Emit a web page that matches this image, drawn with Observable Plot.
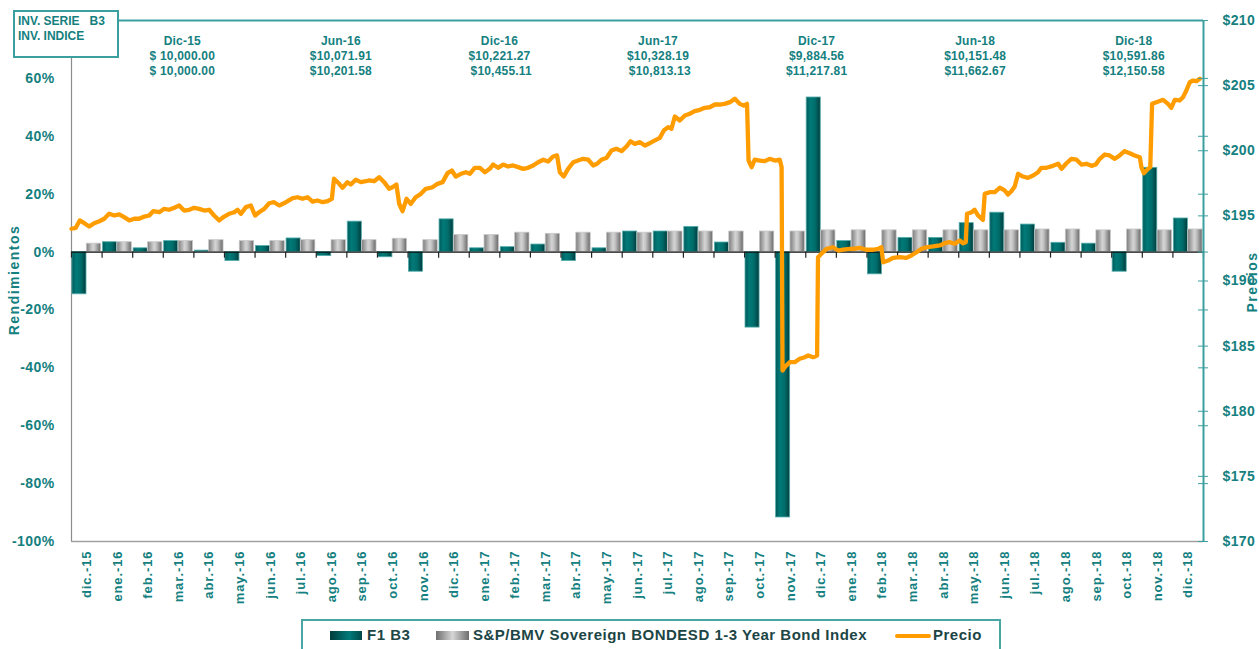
<!DOCTYPE html>
<html>
<head>
<meta charset="utf-8">
<script src="https://cdn.jsdelivr.net/npm/d3@7"></script>
<script src="https://cdn.jsdelivr.net/npm/@observablehq/plot@0.6"></script>
<style>
html,body{margin:0;padding:0;background:#fff;overflow:hidden;}
body{width:1259px;height:649px;position:relative;font-family:"Liberation Sans",Arial,sans-serif;}
#chart{position:absolute;left:0;top:0;}
.box{position:absolute;left:13px;top:10px;width:106px;height:48px;border:2px solid #3b9f9f;background:#fff;color:#148080;font-weight:bold;font-size:12px;line-height:15px;padding:2px 0 0 3px;box-sizing:border-box;white-space:pre;}
.ann{position:absolute;top:34px;left:103px;width:1110px;display:flex;}
.ann div{flex:1;text-align:center;font-weight:bold;font-size:12px;line-height:15px;color:#148080;white-space:pre;letter-spacing:0.2px;}
.ttl{position:absolute;font-weight:bold;font-size:14px;color:#148080;letter-spacing:1.5px;white-space:nowrap;transform:translate(-50%,-50%) rotate(-90deg);}
.legend{position:absolute;left:301px;top:619px;width:700px;height:40px;border:2px solid #4aa5a5;box-sizing:border-box;background:#fff;}
.legend span{position:absolute;top:5px;font-weight:bold;font-size:15px;line-height:18px;letter-spacing:0.5px;color:#1c4545;white-space:nowrap;}
.legend i{position:absolute;display:block;}
</style>
</head>
<body>
<div id="chart"></div>
<script>
// ---- Datos ----
const meses = ["dic.-15","ene.-16","feb.-16","mar.-16","abr.-16","may.-16","jun.-16","jul.-16","ago.-16","sep.-16","oct.-16","nov.-16",
  "dic.-16","ene.-17","feb.-17","mar.-17","abr.-17","may.-17","jun.-17","jul.-17","ago.-17","sep.-17","oct.-17","nov.-17",
  "dic.-17","ene.-18","feb.-18","mar.-18","abr.-18","may.-18","jun.-18","jul.-18","ago.-18","sep.-18","oct.-18","nov.-18","dic.-18"];

// Rendimientos F1 B3 (%)
const f1b3 = [-14.6, 3.4, 1.3, 3.8, 0.5, -3.1, 2.1, 4.7, -1.4, 10.5, -1.8, -6.8,
  11.3, 1.3, 1.7, 2.6, -3.1, 1.3, 7.1, 7.1, 8.7, 3.3, -26.1, -91.7,
  53.4, 3.8, -7.7, 4.9, 4.9, 10.0, 13.6, 9.5, 3.2, 2.9, -6.8, 29.1, 11.6];

// Rendimientos S&P/BMV Sovereign BONDESD 1-3 Year Bond Index (%)
const indice = [2.9, 3.4, 3.4, 3.8, 4.1, 3.8, 3.8, 4.1, 4.1, 4.1, 4.6, 4.1,
  5.9, 5.9, 6.7, 6.3, 6.7, 6.7, 6.7, 7.1, 7.1, 7.1, 7.1, 7.1,
  7.5, 7.5, 7.5, 7.5, 7.5, 7.5, 7.5, 7.8, 7.8, 7.5, 7.8, 7.5, 7.8];

// Precio: posición en meses desde inicio de dic.-15
const precioPos = [0,0.14,0.27,0.42,0.58,0.74,0.91,1.07,1.23,1.40,1.56,1.72,1.89,2.05,2.21,2.38,2.54,2.67,2.87,3.03,
  3.19,3.36,3.52,3.68,3.85,4.01,4.17,4.34,4.50,4.66,4.83,4.99,5.15,5.32,5.43,5.54,5.70,5.86,6.00,6.13,
  6.30,6.46,6.62,6.79,7.01,7.23,7.39,7.55,7.72,7.88,8.04,8.21,8.37,8.51,8.58,8.75,8.86,9.02,9.13,9.29,
  9.46,9.62,9.73,9.89,10.06,10.22,10.38,10.49,10.62,10.71,10.82,10.95,11.09,11.25,11.42,11.58,11.80,11.96,12.13,12.29,
  12.43,12.56,12.73,12.89,
  13.02,13.18,13.35,13.51,13.67,13.78,13.94,14.11,14.27,14.43,14.60,14.76,14.92,15.09,15.25,15.42,15.58,15.74,15.87,15.96,
  16.09,16.23,16.40,16.56,16.72,16.89,17.05,17.18,17.32,17.49,17.65,17.81,17.98,18.14,18.27,18.41,18.58,18.74,18.90,19.07,
  19.23,19.36,19.50,19.61,19.72,19.88,20.05,20.21,20.37,20.54,20.70,20.86,21.03,21.19,21.35,21.52,21.68,21.84,21.97,22.08,
  22.13,22.23,22.33,22.50,22.66,22.82,22.99,23.15,23.21,23.24,23.31,23.48,23.64,23.80,23.97,24.08,24.24,24.37,24.40,24.51,
  24.68,24.89,25.06,25.22,25.44,
  25.55,25.76,25.98,26.20,26.36,26.47,26.53,26.69,26.85,27.07,27.29,27.45,27.62,27.78,27.94,28.16,28.38,28.54,28.71,28.87,
  29.03,29.14,29.23,29.27,29.42,29.52,29.63,29.79,29.85,30.01,30.18,30.34,30.50,30.61,30.72,30.83,30.94,31.10,31.26,31.43,
  31.59,31.70,31.87,32.08,32.25,32.36,32.52,32.68,32.85,33.01,33.17,33.34,33.48,33.61,33.77,33.93,34.10,34.26,34.42,34.59,
  34.75,34.92,34.97,35.05,35.19,35.26,35.32,35.46,35.68,35.84,35.95,36.06,36.22,36.33,36.44,36.55,36.66,36.77,36.88];

const precio = [194.01,194.08,194.65,194.44,194.18,194.44,194.59,194.78,195.16,195.03,195.11,194.90,194.65,194.78,194.78,194.95,195.03,195.36,195.28,195.54,
  195.47,195.62,195.80,195.41,195.47,195.62,195.54,195.41,195.47,195.03,194.65,194.95,195.16,195.28,195.47,195.16,195.67,195.80,195.03,195.28,
  195.54,195.97,196.05,195.80,196.05,196.36,196.43,196.31,196.43,196.10,196.18,196.05,196.13,196.31,197.85,197.46,197.16,197.59,197.41,197.77,
  197.59,197.66,197.72,197.66,197.97,197.59,197.08,197.20,197.41,195.93,195.36,196.31,195.93,196.43,196.69,197.08,197.20,197.46,197.59,198.28,
  198.48,198.02,198.23,198.35,
  198.23,198.69,198.69,198.35,198.61,198.94,198.69,198.94,198.79,198.87,198.74,198.61,198.69,198.87,199.12,199.31,199.17,199.56,199.64,198.35,
  198.02,198.61,199.12,199.25,199.38,199.31,198.87,199.00,199.31,199.46,200.02,200.15,199.97,200.33,200.73,200.53,200.66,200.40,200.58,200.79,
  200.99,201.55,201.81,201.69,202.63,202.32,202.71,202.84,203.04,203.14,203.30,203.34,203.55,203.55,203.60,203.73,203.99,203.60,203.47,203.60,
  199.25,198.74,199.31,199.25,199.20,199.38,199.25,199.31,198.74,183.13,183.38,183.77,183.77,184.03,184.15,184.28,184.15,184.28,191.83,192.09,
  192.47,192.59,192.34,192.40,192.47,
  192.47,192.55,192.40,192.40,192.47,192.59,191.44,191.57,191.78,191.83,191.78,191.96,192.21,192.47,192.59,192.65,192.73,192.90,192.98,192.86,
  193.11,192.90,192.98,195.16,195.28,195.47,195.03,194.70,196.69,196.82,196.82,197.16,196.95,196.64,196.89,197.26,198.23,198.02,197.92,198.10,
  198.35,198.69,198.69,198.84,199.00,198.61,199.04,199.38,199.31,198.94,199.00,198.84,198.94,199.38,199.71,199.64,199.38,199.64,199.97,199.81,
  199.64,199.50,198.74,198.28,198.61,198.74,203.60,203.73,203.91,203.60,203.30,203.91,203.86,204.11,204.63,205.26,205.39,205.34,205.52];

// Ejes
const ticksRend = [-100, -80, -60, -40, -20, 0, 20, 40, 60];
const ticksPrecio = [170, 175, 180, 185, 190, 195, 200, 205, 210];
const rendDominio = [-100, 80];
const precioDominio = [170, 210];

// Anotaciones superiores
const annFechas = ["Dic-15", "Jun-16", "Dic-16", "Jun-17", "Dic-17", "Jun-18", "Dic-18"];
const annSerie = ["$ 10,000.00", "$10,071.91", "$10,221.27", "$10,328.19", "$9,884.56", "$10,151.48", "$10,591.86"];
const annIndice = ["$ 10,000.00", "$10,201.58", " $10,455.11", " $10,813.13", "$11,217.81", "$11,662.67", "$12,150.58"];

// ---- Gráfica ----
const teal = "#148080";
const k = (rendDominio[1] - rendDominio[0]) / (precioDominio[1] - precioDominio[0]);
const toLeft = p => rendDominio[0] + (p - precioDominio[0]) * k;
const fromLeft = v => precioDominio[0] + (v - rendDominio[0]) / k;

const idx = d3.range(meses.length);
const barras = idx.map(i => ({i, mes: meses[i], f1: f1b3[i], ind: indice[i]}));
const linea = precio.map((p, j) => ({t: precioPos[j], p}));

const plot = Plot.plot({
  width: 1259, height: 615,
  marginLeft: 71, marginRight: 56, marginTop: 20, marginBottom: 74,
  style: {fontFamily: "'Liberation Sans', Arial, sans-serif", background: "transparent", overflow: "visible"},
  x: {type: "linear", domain: [0, meses.length], axis: null, label: null},
  y: {domain: rendDominio, axis: null, label: null},
  marks: [
    Plot.ruleY([rendDominio[1]], {stroke: "#3b9f9f", strokeWidth: 2}),
    Plot.ruleY([rendDominio[0]], {stroke: "#a0a0a0", strokeWidth: 1.5}),
    Plot.ruleX([0], {stroke: "#8c8c8c", strokeWidth: 1.2}),
    Plot.rect(barras, {x1: d => d.i + 0.03, x2: d => d.i + 0.49, y1: 0, y2: "f1", fill: "url(#gTeal)", stroke: "#56adad", strokeWidth: 0.8}),
    Plot.rect(barras, {x1: d => d.i + 0.5, x2: d => d.i + 0.97, y1: 0, y2: "ind", fill: "url(#gGray)", stroke: "#c8c8c8", strokeWidth: 0.8}),
    Plot.ruleY([0], {stroke: "#111", strokeWidth: 1.3}),
    Plot.ruleX(d3.range(meses.length + 1), {x: d => d, y1: 0, y2: -2.1, stroke: "#222", strokeWidth: 1.2}),
    Plot.line(linea, {x: "t", y: d => toLeft(d.p), stroke: "#ff9c00", strokeWidth: 4.3, strokeLinejoin: "round", strokeLinecap: "round"}),
    Plot.ruleX([meses.length], {stroke: "#3b9f9f", strokeWidth: 2}),
    Plot.axisY(ticksRend, {anchor: "left", label: null, tickSize: 0, tickPadding: 17, tickFormat: d => d + "%", fill: teal, fontSize: 14, fontWeight: "bold"}),
    Plot.axisY(ticksPrecio.map(toLeft), {anchor: "right", label: null, tickSize: 0, tickPadding: 19, tickFormat: v => "$" + Math.round(fromLeft(v)), fill: teal, fontSize: 14, fontWeight: "bold"}),
    Plot.axisY(ticksPrecio.map(toLeft), {anchor: "right", label: null, tickSize: 10, dx: -6, tickFormat: () => "", stroke: "#3b9f9f"}),
    Plot.axisY(ticksRend, {anchor: "right", label: null, tickSize: 10, dx: -6, tickFormat: () => "", stroke: "#3b9f9f"}),
    Plot.axisX(idx.map(i => i + 0.5), {anchor: "bottom", label: null, tickSize: 0, tickPadding: 9, tickRotate: -90, tickFormat: d => meses[Math.floor(d)], fill: teal, fontSize: 13, fontWeight: "bold"})
  ]
});

// gradientes de barras
const ns = "http://www.w3.org/2000/svg";
const defs = document.createElementNS(ns, "defs");
function grad(id, stops) {
  const g = document.createElementNS(ns, "linearGradient");
  g.setAttribute("id", id); g.setAttribute("x1", "0"); g.setAttribute("x2", "1"); g.setAttribute("y1", "0"); g.setAttribute("y2", "0");
  for (const [o, c] of stops) {
    const s = document.createElementNS(ns, "stop");
    s.setAttribute("offset", o); s.setAttribute("stop-color", c); g.appendChild(s);
  }
  defs.appendChild(g);
}
grad("gTeal", [[0, "#005a5a"], [0.3, "#007a78"], [0.65, "#006c6a"], [1, "#003c3c"]]);
grad("gGray", [[0, "#7c7c7c"], [0.45, "#d4d4d4"], [0.6, "#c4c4c4"], [1, "#686868"]]);
plot.insertBefore(defs, plot.firstChild);
plot.querySelectorAll('g[aria-label="x-axis tick label"] text').forEach(t => t.setAttribute("letter-spacing", "0.9"));
plot.querySelectorAll('g[aria-label="y-axis tick label"] text').forEach(t => t.setAttribute("letter-spacing", "0.4"));
document.getElementById("chart").appendChild(plot);

// ---- Elementos HTML ----
const body = document.body;
const box = document.createElement("div");
box.className = "box";
box.textContent = "INV. SERIE   B3\nINV. INDICE";
body.appendChild(box);

const ann = document.createElement("div");
ann.className = "ann";
annFechas.forEach((f, j) => {
  const d = document.createElement("div");
  d.textContent = f + "\n" + annSerie[j] + "\n" + annIndice[j];
  ann.appendChild(d);
});
body.appendChild(ann);

function titulo(txt, x, y) {
  const d = document.createElement("div");
  d.className = "ttl"; d.textContent = txt;
  d.style.left = x + "px"; d.style.top = y + "px";
  body.appendChild(d);
}
titulo("Rendimientos", 14, 280);
titulo("Precios", 1252, 282);

const leg = document.createElement("div");
leg.className = "legend";
leg.innerHTML =
  '<i style="left:27px;top:10px;width:32px;height:9px;background:linear-gradient(90deg,#003c3c,#007a78 60%,#004848)"></i>' +
  '<span style="left:64px">F1 B3</span>' +
  '<i style="left:133px;top:10px;width:33px;height:9px;background:linear-gradient(90deg,#6e6e6e,#d6d6d6 50%,#6e6e6e)"></i>' +
  '<span style="left:170px">S&amp;P/BMV Sovereign BONDESD 1-3 Year Bond Index</span>' +
  '<i style="left:592px;top:13px;width:36px;height:4px;border-radius:2px;background:#ff9c00"></i>' +
  '<span style="left:630px">Precio</span>';
body.appendChild(leg);
</script>
</body>
</html>
